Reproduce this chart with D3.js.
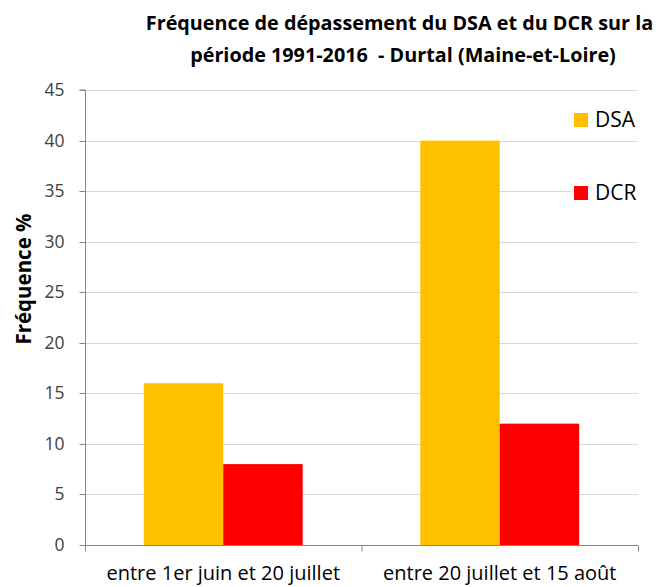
<!DOCTYPE html>
<html>
<head>
<meta charset="utf-8">
<script src="https://cdn.jsdelivr.net/npm/d3@7"></script>
<style>
  body { margin: 0; background: #fff; }
  svg { display: block; }
  text { font-family: "Open Sans", "Liberation Sans", sans-serif; }
</style>
</head>
<body>
<svg id="chart" width="663" height="587"></svg>
<script>
// Fréquence de dépassement (%) par période
const periods = ["entre 1er juin et 20 juillet", "entre 20 juillet et 15 août"];
const seriesNames = ["DSA", "DCR"];
const dsaValues = [16, 40];
const dcrValues = [8, 12];
const seriesColors = ["#FFC000", "#FF0000"];
const yTicks = [0, 5, 10, 15, 20, 25, 30, 35, 40, 45];
const titleLines = [
  "Fréquence de dépassement du DSA et du DCR sur la",
  "période 1991-2016  - Durtal (Maine-et-Loire)"
];
const yLabel = "Fréquence %";

const rows = periods.map((p, i) => ({ period: p, values: [dsaValues[i], dcrValues[i]] }));

const svg = d3.select("#chart");
const plot = { left: 85, right: 638, top: 90, bottom: 545 };

const x = d3.scaleBand().domain(periods).range([plot.left, plot.right]).padding(0);
const xs = d3.scaleBand().domain(seriesNames).range([0, x.bandwidth()])
  .paddingInner(0).paddingOuter(0.74);
const y = d3.scaleLinear().domain([0, 45]).range([plot.bottom, plot.top]);

// gridlines
svg.append("g")
  .selectAll("line")
  .data(yTicks.filter(d => d > 0))
  .join("line")
  .attr("x1", plot.left).attr("x2", plot.right)
  .attr("y1", d => Math.round(y(d)) + 0.5).attr("y2", d => Math.round(y(d)) + 0.5)
  .attr("stroke", "#D9D9D9").attr("stroke-width", 1);

// bars
const groups = svg.append("g").selectAll("g")
  .data(rows).join("g")
  .attr("transform", d => `translate(${x(d.period)},0)`);
groups.selectAll("rect")
  .data(d => d.values.map((v, i) => ({ key: seriesNames[i], value: v, color: seriesColors[i] })))
  .join("rect")
  .attr("x", d => xs(d.key))
  .attr("width", xs.bandwidth())
  .attr("y", d => y(d.value))
  .attr("height", d => y(0) - y(d.value))
  .attr("fill", d => d.color);

// y axis
const yAxis = d3.axisLeft(y).tickValues(yTicks).tickSize(6).tickPadding(5);
const yg = svg.append("g")
  .attr("transform", `translate(${plot.left + 0.5},0)`)
  .call(yAxis);
yg.select(".domain").attr("stroke", "#868686").attr("d", `M-6,${plot.top}H0V${plot.bottom + 6}`);
yg.selectAll(".tick line").attr("stroke", "#868686");
yg.selectAll(".tick text")
  .attr("fill", "#404040")
  .attr("x", -21)
  .style("font-size", "17.5px")
  .style("font-family", "'Open Sans', sans-serif");
yg.selectAll(".tick").attr("transform", d => `translate(0,${Math.round(y(d)) + 0.5})`);

// x axis
const xAxis = d3.axisBottom(x).tickSize(0);
const xg = svg.append("g")
  .attr("transform", `translate(0,${plot.bottom + 0.5})`)
  .call(xAxis);
xg.select(".domain").attr("stroke", "#868686").attr("d", `M${plot.left},0H${plot.right}`);
xg.selectAll(".tick text")
  .attr("fill", "#000")
  .attr("y", 34.5)
  .attr("dy", 0)
  .style("font-size", "20px")
  .style("font-family", "'Open Sans', sans-serif");
// category separators
xg.append("g").selectAll("line")
  .data([plot.left, x(periods[1]), plot.right])
  .join("line")
  .attr("x1", d => d + 0.5).attr("x2", d => d + 0.5)
  .attr("y1", 0).attr("y2", 6)
  .attr("stroke", "#868686");

// y label
svg.append("text")
  .attr("transform", `translate(31,279) rotate(-90)`)
  .attr("text-anchor", "middle")
  .style("font-size", "20.5px")
  .style("font-weight", "bold")
  .attr("fill", "#000")
  .text(yLabel);

// title
svg.append("g").selectAll("text")
  .data(titleLines)
  .join("text")
  .attr("x", (d, i) => i === 0 ? 399.5 : 403)
  .attr("y", (d, i) => 30 + i * 32)
  .attr("text-anchor", "middle")
  .attr("xml:space", "preserve")
  .style("white-space", "pre")
  .style("font-size", "19.8px")
  .style("font-weight", "bold")
  .attr("fill", "#000")
  .text(d => d);

// legend
const legend = svg.append("g").selectAll("g")
  .data(seriesNames)
  .join("g")
  .attr("transform", (d, i) => `translate(574,${113 + i * 73})`);
legend.append("rect")
  .attr("x", -3).attr("y", -6).attr("width", 70).attr("height", 26)
  .attr("fill", "#fff");
legend.append("rect")
  .attr("width", 14).attr("height", 14)
  .attr("fill", (d, i) => seriesColors[i]);
legend.append("text")
  .attr("x", 21).attr("y", 14)
  .style("font-size", "21px")
  .attr("fill", "#000")
  .text(d => d);
</script>
</body>
</html>
